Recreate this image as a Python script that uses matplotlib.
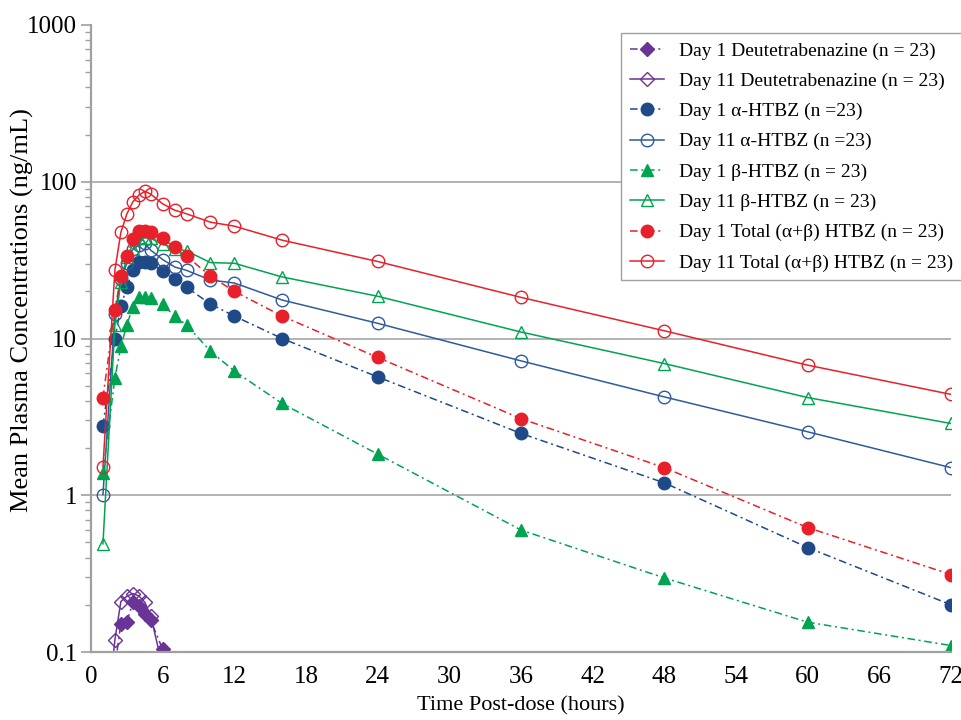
"""
Mean plasma concentration-time profiles of deutetrabenazine and its
metabolites (alpha-, beta- and total HTBZ), Day 1 vs Day 11, log scale.
"""

import numpy as np
import matplotlib
matplotlib.use("Agg")
import matplotlib.pyplot as plt
from matplotlib.ticker import FixedLocator, FuncFormatter, NullFormatter

plt.rcParams['font.family'] = ['Liberation Serif', 'DejaVu Serif']

# sampling times (hours)
times = [1, 2, 2.5, 3, 3.5, 4, 4.5, 5, 6, 7, 8, 10, 12, 16, 24, 36, 48, 60, 72]

# deutetrabenazine (parent) - mostly below 0.1 ng/mL, so its own time grid
deut_t_d1 = [2, 2.5, 3, 3.5, 4, 4.5, 5, 6, 7]
deut_d1 = [0.08, 0.152, 0.155, 0.207, 0.197, 0.176, 0.159, 0.104, 0.05]
deut_t_d11 = [1, 2, 2.5, 3, 3.5, 4, 4.5, 5, 6]
deut_d11 = [0.02, 0.12, 0.21, 0.227, 0.236, 0.228, 0.208, 0.17, 0.08]

# alpha-HTBZ
alpha_d1 = [2.77, 9.9, 16.1, 21.2, 27.3, 30.6, 30.6, 30.4, 26.8, 23.8, 21.2,
            16.6, 13.9, 10.0, 5.69, 2.48, 1.20, 0.464, 0.200]
alpha_d11 = [1.01, 14.3, 24.0, 30.1, 37.0, 39.4, 40.5, 36.6, 31.9, 28.6, 27.2,
             23.6, 22.6, 17.6, 12.5, 7.2, 4.24, 2.54, 1.50]

# beta-HTBZ
beta_d1 = [1.39, 5.6, 8.9, 12.2, 15.9, 18.4, 18.3, 18.0, 16.5, 13.9, 12.2,
           8.3, 6.2, 3.85, 1.83, 0.60, 0.297, 0.155, 0.110]
beta_d11 = [0.49, 12.2, 23.0, 32.9, 37.2, 43.5, 44.0, 43.5, 40.0, 37.5, 36.2,
            30.5, 30.2, 24.7, 18.6, 11.0, 6.92, 4.20, 2.87]

# total (alpha+beta) HTBZ
total_d1 = [4.18, 15.3, 25.0, 33.5, 43.0, 48.4, 48.2, 47.6, 43.5, 38.1, 33.5,
            25.0, 20.0, 13.9, 7.57, 3.08, 1.50, 0.622, 0.312]
total_d11 = [1.52, 27.3, 47.5, 62.3, 74.5, 82.0, 87.0, 83.4, 72.3, 65.9, 62.4,
             55.2, 52.1, 42.4, 31.0, 18.3, 11.2, 6.76, 4.40]

labels = [
    "Day 1 Deutetrabenazine (n = 23)",
    "Day 11 Deutetrabenazine (n = 23)",
    "Day 1 \u03b1-HTBZ (n =23)",
    "Day 11 \u03b1-HTBZ (n =23)",
    "Day 1 \u03b2-HTBZ (n = 23)",
    "Day 11 \u03b2-HTBZ (n = 23)",
    "Day 1 Total (\u03b1+\u03b2) HTBZ (n = 23)",
    "Day 11 Total (\u03b1+\u03b2) HTBZ (n = 23)",
]
x_ticks = [0, 6, 12, 18, 24, 30, 36, 42, 48, 54, 60, 66, 72]
y_ticks = [0.1, 1, 10, 100, 1000]

PURPLE = '#6A3396'
BLUE = '#1F4A87'
BLUE2 = '#2F5A9E'
GREEN = '#00A450'
RED = '#E8202A'
DASHDOT = (0, (5, 2.4, 1.3, 2.4))

series = [
    (deut_t_d1, deut_d1, PURPLE, 'D', True, DASHDOT, 7),
    (deut_t_d11, deut_d11, PURPLE, 'D', False, '-', 7),
    (times, alpha_d1, BLUE, 'o', True, DASHDOT, 9),
    (times, alpha_d11, BLUE2, 'o', False, '-', 9),
    (times, beta_d1, GREEN, '^', True, DASHDOT, 9),
    (times, beta_d11, GREEN, '^', False, '-', 9),
    (times, total_d1, RED, 'o', True, DASHDOT, 9),
    (times, total_d11, RED, 'o', False, '-', 9),
]

fig = plt.figure(figsize=(9.62, 7.2), dpi=100)
ax = fig.add_axes([0.0946, 0.0944, 0.894, 0.8709])

for (t, v, col, mk, filled, ls, ms), lab in zip(series, labels):
    ax.plot(t, v, color=col, linestyle=ls, linewidth=1.1, marker=mk,
            markersize=ms, markeredgewidth=1.0,
            markerfacecolor=col if filled else 'none',
            markeredgecolor=col, label=lab)

ax.set_yscale('log')
ax.set_ylim(0.1, 1000)
ax.set_xlim(0, 72)

ax.xaxis.set_major_locator(FixedLocator(x_ticks))
ax.yaxis.set_major_locator(FixedLocator(y_ticks))
ax.yaxis.set_major_formatter(FuncFormatter(lambda v, p: f"{v:g}"))
ax.yaxis.set_minor_formatter(NullFormatter())

# horizontal gridlines at each decade (none at the top edge)
for yv in y_ticks[1:-1]:
    ax.axhline(yv, color='#A6A6A6', linewidth=1.2, zorder=0)

for side in ['top', 'right']:
    ax.spines[side].set_visible(False)
for side in ['left', 'bottom']:
    ax.spines[side].set_color('#A0A0A0')
    ax.spines[side].set_linewidth(1.6)

ax.tick_params(axis='y', which='major', length=7, width=1.2, color='#A0A0A0',
               labelsize=18, pad=3)
ax.tick_params(axis='y', which='minor', length=4, width=1.0, color='#A0A0A0')
ax.tick_params(axis='x', which='major', length=0, labelsize=18, pad=10)

ax.set_xlabel("Time Post-dose (hours)", fontsize=16)
ax.xaxis.set_label_coords(0.5, -0.071)
ax.set_ylabel("Mean Plasma Concentrations (ng/mL)", fontsize=19)
ax.yaxis.set_label_coords(-0.066, 0.545)

leg = ax.legend(loc='upper right', bbox_to_anchor=(1.0, 0.954),
                bbox_transform=fig.transFigure, fontsize=14,
                frameon=True, fancybox=False, framealpha=1,
                edgecolor='#A0A0A0', handlelength=1.75, handletextpad=0.8,
                labelspacing=0.65, borderpad=0.45, borderaxespad=0)
leg.get_frame().set_linewidth(1.0)

plt.savefig('out.png', dpi=100)
